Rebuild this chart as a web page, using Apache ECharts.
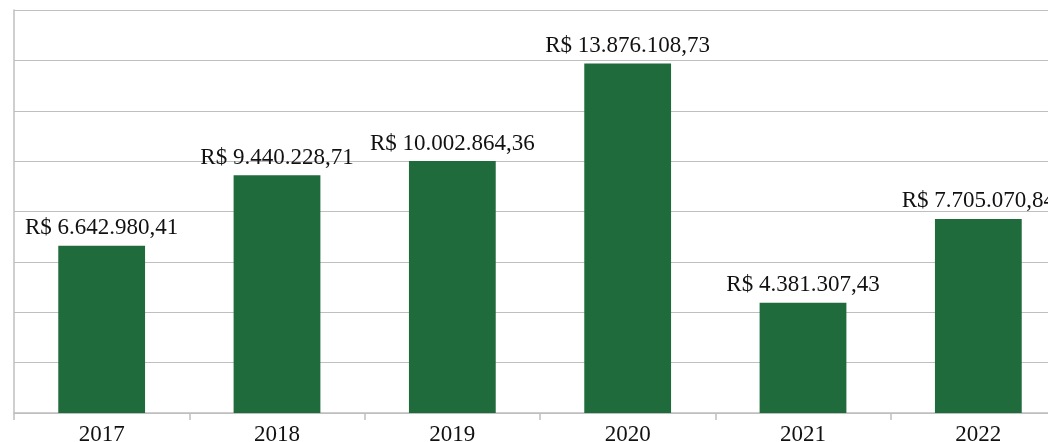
<!DOCTYPE html>
<html>
<head>
<meta charset="utf-8">
<script src="https://cdn.jsdelivr.net/npm/echarts@6/dist/echarts.min.js"></script>
<style>
  html, body { margin: 0; padding: 0; background: #fff; overflow: hidden; }
  #chart { width: 1048px; height: 442px; }
</style>
</head>
<body>
<div id="chart"></div>
<script>
// data
var years = ['2017', '2018', '2019', '2020', '2021', '2022'];
var totals = [6642980.41, 9440228.71, 10002864.36, 13876108.73, 4381307.43, 7705070.84];
var yMax = 16000000;
var yStep = 2000000;

// brazilian money format: R$ 1.234.567,89
function brl(v) {
  var parts = v.toFixed(2).split('.');
  var whole = parts[0].replace(/\B(?=(\d{3})+(?!\d))/g, '.');
  return 'R$ ' + whole + ',' + parts[1];
}

var chart = echarts.init(document.getElementById('chart'));

var option = {
  animation: false,
  // plot runs past the right edge, like the cropped original
  grid: { left: 14, right: -18, top: 10, bottom: 29, outerBoundsMode: 'none', containLabel: false },
  xAxis: {
    type: 'category',
    data: years,
    axisLine: { lineStyle: { color: '#bfbfbf', width: 1.5 } },
    axisTick: { show: true, length: 7, lineStyle: { color: '#bfbfbf', width: 1.5 } },
    axisLabel: {
      color: '#111',
      fontFamily: 'Liberation Serif',
      fontSize: 23,
      margin: 10
    }
  },
  yAxis: {
    type: 'value',
    min: 0,
    max: yMax,
    interval: yStep,
    axisLine: { show: true, lineStyle: { color: '#bfbfbf', width: 1.5 } },
    axisTick: { show: false },
    axisLabel: { show: false },
    splitLine: { lineStyle: { color: '#bfbfbf', width: 1.2 } }
  },
  series: [{
    type: 'bar',
    data: totals,
    barWidth: '49.5%',
    itemStyle: { color: '#206b3b' },
    label: {
      show: true,
      position: 'top',
      distance: 6,
      color: '#111',
      fontFamily: 'Liberation Serif',
      fontSize: 23,
      formatter: function (p) { return brl(p.value); }
    }
  }]
};

chart.setOption(option);
</script>
</body>
</html>
